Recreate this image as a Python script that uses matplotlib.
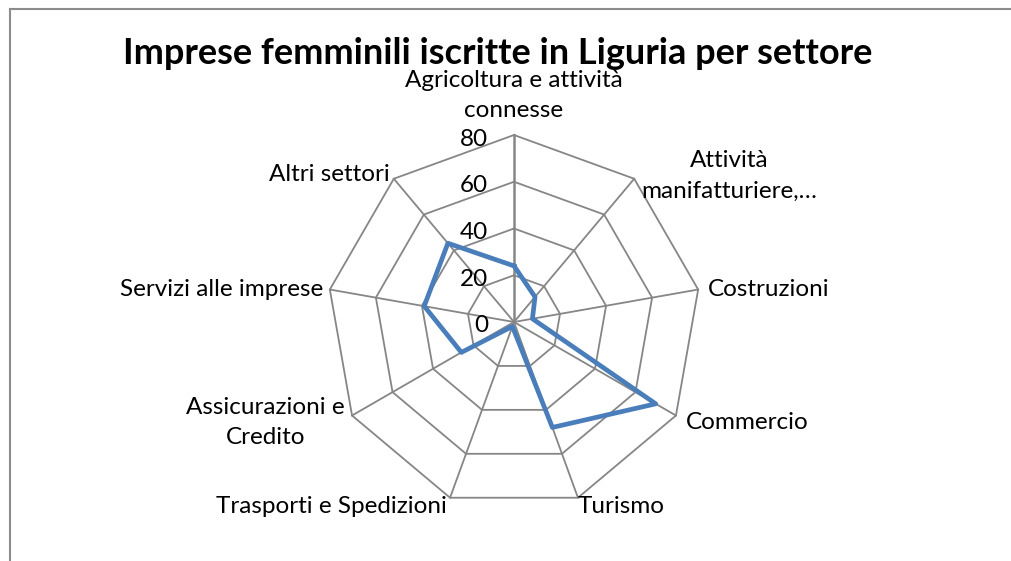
import numpy as np
import matplotlib
matplotlib.use("Agg")
import matplotlib.pyplot as plt
from matplotlib.lines import Line2D

categories = ["Agricoltura e attività\nconnesse", "Attività\nmanifatturiere,…",
              "Costruzioni", "Commercio", "Turismo", "Trasporti e Spedizioni",
              "Assicurazioni e\nCredito", "Servizi alle imprese", "Altri settori"]
values = [24, 14, 8, 70, 48, 2, 26, 39, 44]
rings = [0, 20, 40, 60, 80]
title = "Imprese femminili iscritte in Liguria per settore"

# label placement: (dx, dy) offset in pixels from outer vertex, ha, va
label_pos = [((0, 14), "center", "bottom"), ((7, 3), "left", "center"),
             ((10, 0), "left", "center"), ((10, -7), "left", "center"),
             ((0, -9), "left", "center"), ((-3, -9), "right", "center"),
             ((-7, -7), "right", "center"), ((-7, 0), "right", "center"),
             ((-4, 4), "right", "center")]

plt.rcParams['font.family'] = ['Lato', 'DejaVu Sans']
fig = plt.figure(figsize=(10.11, 5.61), dpi=100)
W, H = 1011, 561
cx, cy, R = 514, 322, 187
ax = fig.add_axes([(cx - R) / W, (H - cy - R) / H, 2 * R / W, 2 * R / H], projection="polar")
ax.set_theta_offset(np.pi / 2)
ax.set_theta_direction(-1)
ax.set_ylim(0, rings[-1])
ax.grid(False)
ax.spines["polar"].set_visible(False)
ax.set_xticks([])
ax.set_yticks([])
ax.patch.set_visible(False)

n = len(categories)
theta = np.arange(n) * 2 * np.pi / n
closed = np.append(theta, theta[0])
grid_col = "#868686"
for r in rings[1:]:
    ax.plot(closed, [r] * (n + 1), color=grid_col, lw=1.3, clip_on=False)
for i, t in enumerate(theta):
    ax.plot([t, t], [0, rings[-1]], color=grid_col, lw=1.8 if i == 0 else 1.3, clip_on=False)

ax.plot(closed, values + values[:1], color="#4A7EBB", lw=3.4, clip_on=False, zorder=5)

for r in rings:
    ax.annotate(str(r), xy=(0, r), xytext=(-26, -2), textcoords="offset pixels",
                ha="right", va="center_baseline", fontsize=17.5)

for t, lab, (off, ha, va) in zip(theta, categories, label_pos):
    ax.annotate(lab, xy=(t, rings[-1]), xytext=off, textcoords="offset pixels",
                ha=ha, va=va, multialignment="center", fontsize=17.5, linespacing=1.55)

fig.text(498 / W, (H - 64) / H, title, ha="center", va="baseline",
         fontsize=26, fontweight="bold")

fig.add_artist(Line2D([10 / W, 10 / W], [0, (H - 9) / H], color="#8c8c8c", lw=1.5))
fig.add_artist(Line2D([10 / W, 1], [(H - 9) / H, (H - 9) / H], color="#8c8c8c", lw=1.5))

fig.savefig("out.png", dpi=100)
